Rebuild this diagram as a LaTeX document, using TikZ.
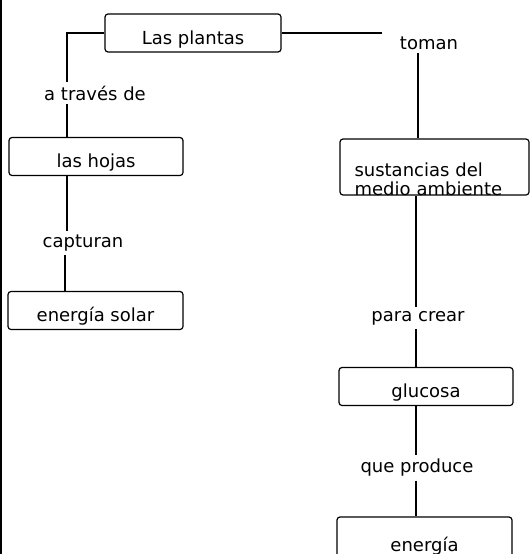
\documentclass[tikz,border=0pt]{standalone}
\usepackage{fontspec}
\setmainfont{DejaVu Sans}
\begin{document}
\begin{tikzpicture}[x=1pt,y=-1pt,line width=1.2pt,
		font=\fontsize{18}{19}\selectfont,
		caja/.style={draw,rounded corners=3pt,minimum width=175pt,minimum height=38pt,inner ysep=2pt,text height=28pt,text depth=6pt}]
		\clip (0,0) rectangle (531,554);
		\draw[line width=2pt] (1,0) -- (1,554);
		\node (Lp) at (193,33) [caja,minimum width=176pt] {Las plantas};
		\node (Lh) at (96,156.5) [caja,minimum width=174pt] {las hojas};
		\node (Es) at (95.5,310.5) [caja] {energía solar};
		\node (Su) at (434.5,167) [caja,minimum width=189pt,minimum height=56pt,text height=35pt,text depth=17pt,text width=160pt,align=left,inner xsep=14pt] {sustancias del\\medio ambiente};
		\node (Gl) at (426,386.5) [caja,minimum width=174pt] {glucosa};
		\node (En) at (424.5,540) [caja,minimum height=46pt] {energía};
		\node (At) at (95,93) [] {a través de};
		\node (To) at (429,43) [] {toman};
		\node (Ca) at (83,243) [] {capturan};
		\node (Pc) at (418,318) [] {para crear};
		\node (Qp) at (417,468) [] {que produce};
		\draw (Lp.west) -| ([xshift=-28pt]At.north);
		\draw ([xshift=-28pt]At.south) -- ([xshift=-28pt]At.south |- Lh.north);
		\draw (Lp.east) -- ([xshift=-14pt]Lp.east -| To.west);
		\draw ([xshift=-11pt]To.south) -- ([xshift=-11pt]To.south |- Su.north);
		\draw ([xshift=-29pt]Lh.south) -- ([xshift=-29pt]Lh.south |- Ca.north);
		\draw ([xshift=-18pt]Ca.south) -- ([xshift=-18pt]Ca.south |- Es.north);
		\draw ([xshift=-18.5pt]Su.south) -- ([xshift=-18.5pt]Su.south |- Pc.north);
		\draw ([xshift=-2pt]Pc.south) -- ([xshift=-2pt]Pc.south |- Gl.north);
		\draw ([xshift=-10pt]Gl.south) -- ([xshift=-10pt]Gl.south |- Qp.north);
		\draw ([xshift=-1pt]Qp.south) -- ([xshift=-1pt]Qp.south |- En.north);
	\end{tikzpicture}
\end{document}
